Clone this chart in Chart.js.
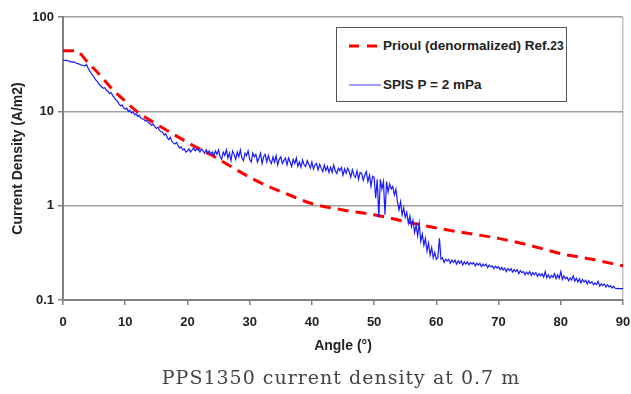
<!DOCTYPE html>
<html>
<head>
<meta charset="utf-8">
<script src="https://cdn.jsdelivr.net/npm/chart.js@4.4.1/dist/chart.umd.min.js"></script>
<style>
  html, body { margin: 0; padding: 0; background: #fff; }
  #wrap { position: relative; width: 631px; height: 394px; overflow: hidden; }
  #chart { position: absolute; left: 0; top: 0; }
  .legend { position: absolute; left: 336px; top: 27px; width: 229px; height: 73px;
    border: 1px solid #555; background: #fff;
    font: bold 13.5px "Liberation Sans", Arial, sans-serif; color: #222; }
  .legend .row { position: absolute; left: 0; height: 16px; line-height: 16px; white-space: nowrap; }
  .legend svg { position: absolute; left: 11px; top: 0; }
  .legend span.t { position: absolute; left: 46px; top: 0; }
  .legend small { font-size: 12px; }
  .caption { position: absolute; left: 91px; width: 500px; top: 366px; text-align: center;
    font: 19px "DejaVu Serif", serif; letter-spacing: 1px; color: #444; }
</style>
</head>
<body>
<div id="wrap">
  <canvas id="chart" width="631" height="394"></canvas>
  <div class="legend">
    <div class="row" style="top:10px">
      <svg width="34" height="16"><line x1="1" y1="8" x2="33" y2="8" stroke="#ff0000" stroke-width="3" stroke-dasharray="10 8"/></svg>
      <span class="t">Prioul (denormalized) Ref.<small>23</small></span>
    </div>
    <div class="row" style="top:49px">
      <svg width="34" height="16"><line x1="1" y1="8" x2="33" y2="8" stroke="#8080ff" stroke-width="1.5"/></svg>
      <span class="t">SPIS P = 2 mPa</span>
    </div>
  </div>
  <div class="caption">PPS1350 current density at 0.7 m</div>
</div>
<script>
const Y_TICKS = [0.1, 1, 10, 100];
const X_TICKS = [0, 10, 20, 30, 40, 50, 60, 70, 80, 90];

// Prioul (denormalized)
const prioulAngle = [0, 2, 4, 6, 8, 10, 12, 15, 18, 21, 24, 27, 30, 33, 36, 40, 45, 50, 55, 60, 65, 70, 75, 80, 85, 90];
const prioulValue = [44, 44, 33, 24, 17, 12.8, 9.8, 7.3, 5.6, 4.3, 3.4, 2.6, 2.0, 1.6, 1.33, 1.05, 0.9, 0.8, 0.68, 0.58, 0.51, 0.45, 0.38, 0.31, 0.27, 0.23];

// SPIS P = 2 mPa, sampled every 0.25 deg (one row per degree)
const SPIS_STEP = 0.25;
const spisRows = [
  [35, 34.6, 34.8, 34.2],
  [34, 33.6, 33.2, 33.5],
  [32.8, 32.2, 31.8, 31.4],
  [30.9, 30.6, 30.2, 31.5],
  [29, 27, 25.5, 24.2],
  [23, 21.5, 20.8, 19.6],
  [18.8, 18.1, 17.5, 17.8],
  [16.6, 16.2, 15.4, 15.8],
  [14.6, 14.0, 13.2, 12.8],
  [12.0, 11.4, 11.7, 10.9],
  [10.5, 10.8, 10.0, 10.3],
  [9.6, 9.9, 9.2, 9.4],
  [8.8, 9.1, 8.5, 8.3],
  [8.2, 7.9, 8.0, 7.6],
  [7.4, 7.1, 7.3, 6.9],
  [6.6, 6.8, 6.3, 6.1],
  [6.0, 5.6, 5.8, 5.3],
  [5.0, 5.3, 4.8, 4.6],
  [4.5, 4.7, 4.3, 4.1],
  [4.2, 3.9, 4.0, 3.7],
  [3.8, 4.0, 3.7, 3.9],
  [4.1, 3.8, 4.0, 3.9],
  [3.7, 4.0, 3.8, 3.6],
  [3.9, 3.6, 3.8, 3.5],
  [3.7, 3.4, 3.8, 3.5],
  [3.9, 3.3, 3.1, 3.7],
  [3.4, 3.9, 3.2, 3.6],
  [3.0, 3.8, 3.5, 3.1],
  [3.7, 3.3, 3.9, 3.2],
  [3.0, 3.6, 3.4, 3.8],
  [3.1, 2.9, 3.6, 3.3],
  [3.5, 2.9, 3.2, 3.6],
  [2.8, 3.3, 3.5, 2.9],
  [3.4, 3.0, 2.8, 3.3],
  [2.9, 3.4, 2.7, 3.1],
  [3.3, 2.8, 3.0, 3.2],
  [2.7, 3.2, 2.9, 2.6],
  [3.1, 2.8, 3.2, 2.6],
  [2.9, 2.55, 3.05, 2.7],
  [2.6, 3.0, 2.75, 2.5],
  [2.9, 2.45, 2.7, 2.8],
  [2.4, 2.75, 2.5, 2.3],
  [2.7, 2.35, 2.6, 2.25],
  [2.55, 2.25, 2.7, 2.35],
  [2.2, 2.5, 2.35, 2.55],
  [2.1, 2.45, 2.2, 2.5],
  [2.3, 2.0, 2.4, 2.1],
  [2.0, 2.35, 1.9, 2.25],
  [2.2, 1.85, 2.1, 2.3],
  [1.8, 2.1, 1.6, 2.05],
  [2.0, 1.2, 1.9, 0.75],
  [1.9, 1.5, 1.8, 0.8],
  [1.8, 1.4, 1.7, 1.5],
  [1.6, 1.3, 1.5, 1.1],
  [0.9, 1.1, 0.8, 0.95],
  [0.75, 0.85, 0.65, 0.78],
  [0.6, 0.7, 0.52, 0.62],
  [0.48, 0.65, 0.42, 0.5],
  [0.38, 0.45, 0.33, 0.4],
  [0.3, 0.36, 0.28, 0.32],
  [0.27, 0.28, 0.45, 0.27],
  [0.28, 0.25, 0.27, 0.26],
  [0.27, 0.245, 0.265, 0.25],
  [0.265, 0.24, 0.26, 0.245],
  [0.26, 0.235, 0.255, 0.24],
  [0.255, 0.235, 0.25, 0.24],
  [0.25, 0.23, 0.245, 0.235],
  [0.245, 0.225, 0.24, 0.23],
  [0.24, 0.22, 0.235, 0.225],
  [0.23, 0.215, 0.228, 0.218],
  [0.225, 0.21, 0.222, 0.208],
  [0.218, 0.2, 0.215, 0.205],
  [0.215, 0.198, 0.21, 0.2],
  [0.21, 0.19, 0.205, 0.195],
  [0.2, 0.185, 0.198, 0.188],
  [0.2, 0.182, 0.195, 0.185],
  [0.195, 0.178, 0.19, 0.18],
  [0.19, 0.175, 0.2, 0.172],
  [0.185, 0.17, 0.182, 0.174],
  [0.19, 0.168, 0.185, 0.17],
  [0.2, 0.165, 0.18, 0.168],
  [0.175, 0.16, 0.172, 0.163],
  [0.18, 0.158, 0.17, 0.155],
  [0.168, 0.152, 0.165, 0.155],
  [0.162, 0.148, 0.16, 0.15],
  [0.156, 0.145, 0.152, 0.146],
  [0.158, 0.14, 0.148, 0.142],
  [0.148, 0.137, 0.145, 0.138],
  [0.142, 0.134, 0.14, 0.133],
  [0.132, 0.133, 0.132, 0.132],
  [0.132]
];

const prioulData = prioulAngle.map((a, i) => ({ x: a, y: prioulValue[i] }));
const spisData = spisRows.flat().map((v, i) => ({ x: i * SPIS_STEP, y: v }));

const TICK_FONT = { family: '"Liberation Sans", Arial, sans-serif', size: 13, weight: 'bold' };
const TITLE_FONT = { family: '"Liberation Sans", Arial, sans-serif', size: 14, weight: 'bold' };

new Chart(document.getElementById('chart'), {
  type: 'line',
  data: {
    datasets: [
      {
        label: 'SPIS P = 2 mPa',
        data: spisData,
        borderColor: '#1a1aff', borderWidth: 1.2,
        pointRadius: 0, tension: 0, fill: false
      },
      {
        label: 'Prioul (denormalized) Ref.23',
        data: prioulData,
        borderColor: '#ff0000', borderWidth: 3, borderDash: [11, 7],
        pointRadius: 0, cubicInterpolationMode: 'monotone', fill: false
      }
    ]
  },
  options: {
    responsive: false,
    animation: false,
    layout: { padding: { top: 17, right: 8, bottom: 38, left: 0 } },
    plugins: { legend: { display: false }, tooltip: { enabled: false } },
    scales: {
      x: {
        type: 'linear', min: 0, max: 90,
        afterBuildTicks: s => { s.ticks = X_TICKS.map(v => ({ value: v })); },
        afterFit: s => { s.height = 56; s.paddingRight = 0; s.paddingLeft = 0; },
        ticks: { color: '#222', font: TICK_FONT, padding: 10, maxRotation: 0 },
        grid: {
          drawOnChartArea: true, tickLength: 5, lineWidth: 1.5,
          color: c => (c.tick && c.tick.value === 90) ? '#c0c0c0' : 'rgba(0,0,0,0)',
          tickColor: '#808080'
        },
        border: { color: '#808080', width: 2 },
        title: { display: true, text: 'Angle (°)', color: '#222', font: TITLE_FONT, padding: { top: 0, bottom: 1 } }
      },
      y: {
        type: 'logarithmic', min: 0.1, max: 100,
        afterBuildTicks: s => { s.ticks = Y_TICKS.map(v => ({ value: v })); },
        afterFit: s => { s.width = 63; },
        ticks: { color: '#222', font: TICK_FONT, padding: 4, callback: v => String(v) },
        grid: { color: '#a0a0a0', lineWidth: 1.5, tickLength: 5, tickColor: '#808080' },
        border: { color: '#808080', width: 2 },
        title: { display: true, text: 'Current Density (A/m2)', color: '#222', font: TITLE_FONT, padding: { top: 10, bottom: 0 } }
      }
    }
  }
});
</script>
</body>
</html>
